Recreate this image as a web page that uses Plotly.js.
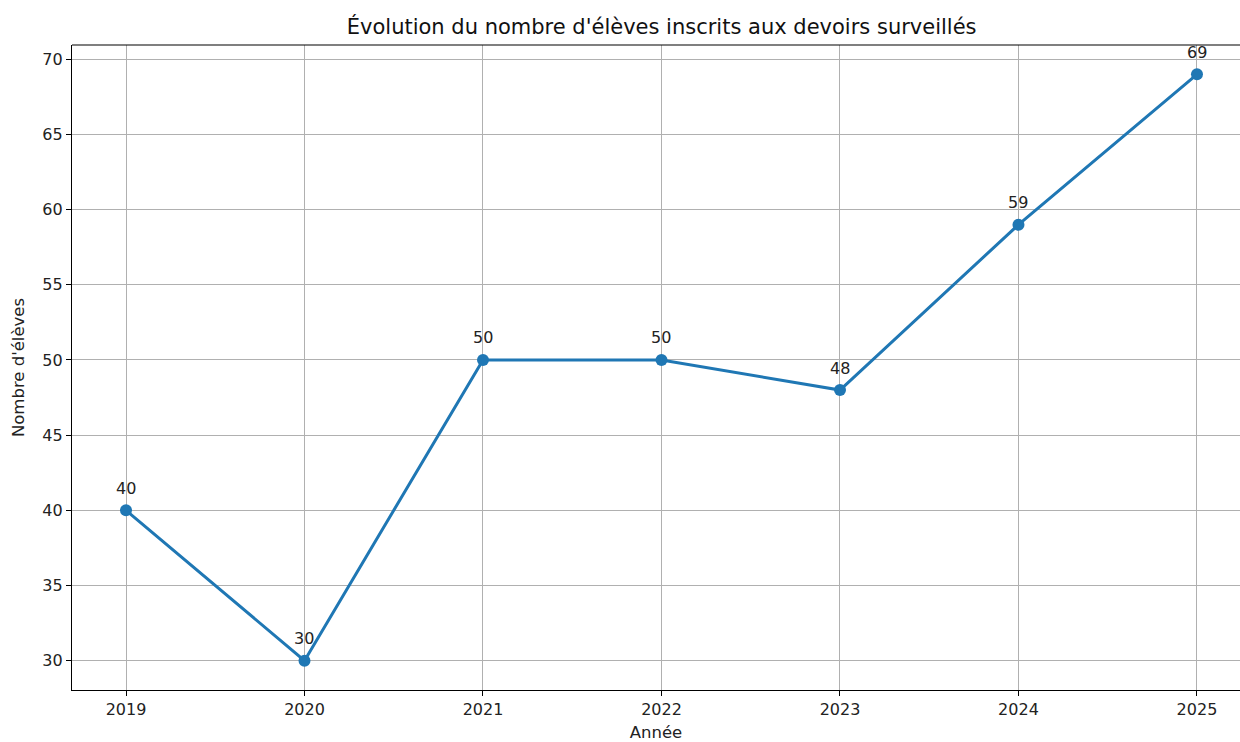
<!DOCTYPE html>
<html>
<head>
<meta charset="utf-8">
<script src="https://cdn.plot.ly/plotly-3.0.1.min.js"></script>
<style>html,body{margin:0;padding:0;background:#fff;}#chart{width:1240px;height:742px;}</style>
</head>
<body>
<div id="chart"></div>
<script>
const years = [2019, 2020, 2021, 2022, 2023, 2024, 2025];
const eleves = [40, 30, 50, 50, 48, 59, 69];
const yTicks = [30, 35, 40, 45, 50, 55, 60, 65, 70];

const font = 'DejaVu Sans, sans-serif';
const trace = {
  x: years, y: eleves, type: 'scatter', mode: 'lines+markers',
  line: {color: '#1f77b4', width: 3},
  marker: {color: '#1f77b4', size: 12},
  hoverinfo: 'skip'
};
const annotations = years.map((yr, i) => ({
  x: yr, y: eleves[i], text: String(eleves[i]), showarrow: false,
  yshift: 22, font: {family: font, size: 16, color: '#222'}
}));
const layout = {
  width: 1240, height: 742,
  margin: {l: 72, r: 0, t: 45, b: 52},
  paper_bgcolor: '#fff', plot_bgcolor: '#fff',
  font: {family: font, size: 16, color: '#222'},
  title: {text: "Évolution du nombre d'élèves inscrits aux devoirs surveillés",
          font: {family: font, size: 21, color: '#111'}, x: 0.5336, xanchor: 'center', y: 0.964, yanchor: 'middle'},
  showlegend: false,
  annotations: annotations,
  xaxis: {
    range: [2018.6975, 2025.241], tickvals: years, ticktext: years.map(String),
    showgrid: true, gridcolor: '#b0b0b0', gridwidth: 1,
    showline: true, linecolor: '#000', linewidth: 1.2, mirror: false,
    ticks: 'outside', ticklen: 5, tickcolor: '#000', zeroline: false,
    tickfont: {family: font, size: 16, color: '#222'},
    title: {text: 'Année', font: {family: font, size: 16.5, color: '#222'}, standoff: 13}
  },
  yaxis: {
    range: [28.05, 70.95], tickvals: yTicks,
    showgrid: true, gridcolor: '#b0b0b0', gridwidth: 1,
    showline: true, linecolor: '#000', linewidth: 1.2,
    ticks: 'outside', ticklen: 5, tickcolor: '#000', zeroline: false,
    tickfont: {family: font, size: 16, color: '#222'},
    title: {text: "Nombre d'élèves", font: {family: font, size: 16.5, color: '#222'}, standoff: 13}
  },
  shapes: [{type: 'line', xref: 'paper', yref: 'paper', x0: 0, x1: 1, y0: 1, y1: 1,
            line: {color: '#000', width: 1.2}}]
};
Plotly.newPlot('chart', [trace], layout, {displayModeBar: false, staticPlot: true});
</script>
</body>
</html>
